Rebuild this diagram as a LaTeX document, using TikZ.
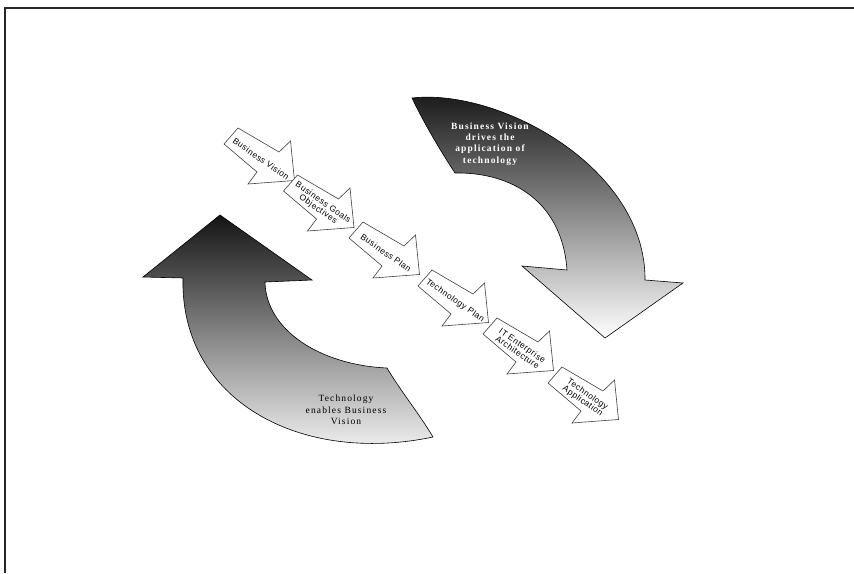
\documentclass[tikz,border=0pt]{standalone}
\usepackage{fontspec}
\setmainfont{Liberation Serif}
\setsansfont{Liberation Sans}
\newfontfamily\labelfont[LetterSpace=6]{Liberation Sans}
\newfontfamily\bigfont[LetterSpace=12]{Liberation Serif}

\tikzset{
  smallarrow/.style={draw=black!75, fill=white, line width=0.6pt, line join=miter},
  steplabel/.style={font=\labelfont\fontsize{8.5}{8.5}\selectfont, align=center,
    inner sep=0pt, rotate=-35, text=black},
  bigarrow/.style={draw=black, line width=0.6pt, line join=miter},
  bigtext/.style={font=\bigfont\fontsize{9.5}{11.3}\selectfont, align=center, inner sep=0pt},
}

% one block arrow of the chain: name, tail corner, text
\newcommand\chainarrow[3]{%
  \begin{scope}[shift={#2}]
    \draw[smallarrow] (0,0) -- (41,24) -- (52.5,13) -- (56.5,52.5)
      -- (10,56) -- (19,44) -- (-14,16) -- cycle;
    \node[steplabel] (#1) at (23,31) {#3};
  \end{scope}}

\begin{document}
\begin{tikzpicture}[x=1pt, y=-1pt]
  \useasboundingbox (0,0) rectangle (854,573);
  \fill[white] (0,0) rectangle (854,573);

  % page frame
  \draw[line width=1.8pt, black!85] (5,573) -- (5,8) -- (854,8);

  % upper curved arrow
  \shade[bigarrow, top color=black!92, middle color=black!40, bottom color=white]
    (412,98) .. controls (500,88) and (646,168) .. (645,280)
    -- (683,283) -- (605,338) -- (522,266) -- (567,270)
    .. controls (562,200) and (510,172) .. (455,173)
    .. controls (440,150) and (425,125) .. cycle;
  \node[bigtext, text=white, font=\bigfont\bfseries\fontsize{9.5}{11.3}\selectfont]
    (drives) at (490,144) {Business Vision\\drives the\\application of\\technology};

  % lower curved arrow
  \shade[bigarrow, top color=black!92, middle color=black!45, bottom color=white]
    (220,215) -- (312,280) -- (265,282)
    .. controls (266,330) and (320,365) .. (387,368)
    .. controls (400,390) and (420,415) .. (433,437)
    .. controls (300,465) and (180,400) .. (183,278)
    -- (143,277) -- cycle;
  \node[bigtext] (enables) at (346,410) {Technology\\enables Business\\Vision};

  % chain of steps
  \chainarrow{s1}{(238,128)}{Business Vision}
  \chainarrow{s2}{(297.5,175)}{Business Goals\\Objectives}
  \chainarrow{s3}{(363,222)}{Business Plan}
  \chainarrow{s4}{(432,270)}{Technology Plan}
  \chainarrow{s5}{(497,318)}{IT Enterprise\\Architecture}
  \chainarrow{s6}{(562,367)}{Technology\\Application}
\end{tikzpicture}
\end{document}
